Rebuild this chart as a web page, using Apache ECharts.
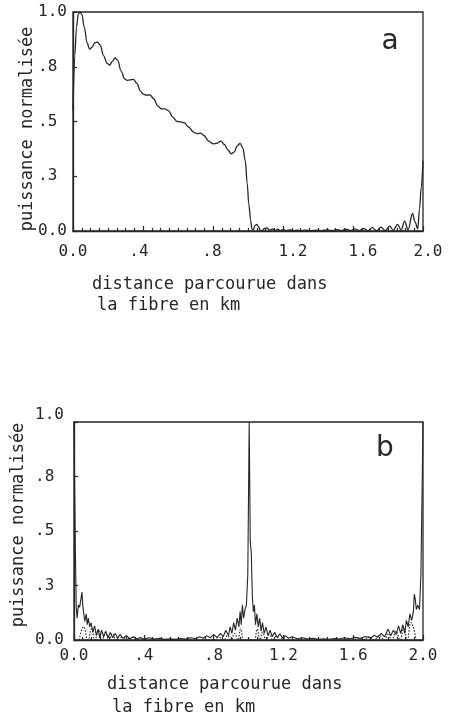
<!DOCTYPE html>
<html>
<head>
<meta charset="utf-8">
<script src="https://cdn.jsdelivr.net/npm/echarts@6/dist/echarts.min.js"></script>
<style>
html,body{margin:0;padding:0;background:#fff;}
#chart{width:459px;height:719px;}
</style>
</head>
<body>
<div id="chart"></div>
<script>
// ---- Data ----
const xTickLabels = ['0.0', '.4', '.8', '1.2', '1.6', '2.0'];
const yTickLabels = ['0.0', '.3 ', '.5 ', '.8 ', '1.0'];

// Panel a : normalised power vs distance (km)
const distA = [0.000,0.010,0.020,0.030,0.040,0.050,0.065,0.080,0.095,0.110,0.125,0.140,0.155,0.175,0.195,0.210,0.225,0.240,0.255,0.275,0.295,0.310,0.325,0.345,0.365,0.385,0.400,0.420,0.440,0.460,0.485,0.505,0.525,0.545,0.570,0.595,0.615,0.635,0.660,0.690,0.710,0.730,0.750,0.775,0.800,0.820,0.845,0.865,0.885,0.905,0.920,0.940,0.955,0.970,0.985,0.995,1.005,1.015,1.022,1.030,1.040,1.050,1.060,1.070,1.080,1.095,1.110,1.125,1.140,1.155,1.170,1.185,1.200,1.220,1.240,1.260,1.280,1.300,1.330,1.360,1.390,1.420,1.450,1.480,1.510,1.535,1.560,1.585,1.610,1.635,1.660,1.685,1.710,1.735,1.760,1.785,1.810,1.830,1.855,1.875,1.895,1.915,1.940,1.955,1.970,1.980,1.990,2.000];
const powerA = [0.55,0.80,0.93,0.99,1.00,0.99,0.93,0.86,0.83,0.84,0.86,0.862,0.85,0.80,0.765,0.758,0.775,0.790,0.78,0.73,0.695,0.688,0.69,0.692,0.675,0.64,0.625,0.62,0.622,0.605,0.57,0.558,0.558,0.55,0.52,0.50,0.498,0.495,0.475,0.45,0.445,0.447,0.435,0.41,0.398,0.40,0.41,0.395,0.37,0.352,0.36,0.39,0.40,0.38,0.32,0.22,0.12,0.05,0.01,0.005,0.025,0.03,0.02,0.003,0.002,0.012,0.013,0.003,0.010,0.002,0.008,0.002,0.006,0.002,0.005,0.002,0.004,0.002,0.004,0.002,0.004,0.002,0.005,0.002,0.006,0.002,0.008,0.002,0.010,0.002,0.012,0.002,0.015,0.002,0.018,0.002,0.022,0.003,0.030,0.004,0.045,0.005,0.080,0.040,0.010,0.10,0.20,0.32];

// Panel b : solid curve
const distB = [0.000,0.004,0.008,0.013,0.018,0.025,0.032,0.040,0.046,0.050,0.056,0.062,0.070,0.076,0.082,0.090,0.098,0.108,0.118,0.128,0.138,0.148,0.158,0.170,0.182,0.195,0.208,0.222,0.236,0.250,0.265,0.280,0.300,0.320,0.340,0.360,0.380,0.400,0.430,0.460,0.490,0.520,0.550,0.580,0.610,0.640,0.670,0.700,0.720,0.740,0.760,0.780,0.800,0.820,0.840,0.855,0.870,0.885,0.895,0.905,0.915,0.925,0.935,0.945,0.952,0.958,0.965,0.972,0.980,0.988,0.996,1.004,1.010,1.016,1.022,1.028,1.034,1.040,1.048,1.056,1.064,1.072,1.080,1.090,1.100,1.112,1.124,1.136,1.150,1.165,1.180,1.195,1.210,1.230,1.250,1.280,1.310,1.340,1.370,1.400,1.430,1.460,1.490,1.520,1.550,1.580,1.610,1.640,1.670,1.700,1.720,1.740,1.760,1.780,1.800,1.815,1.830,1.845,1.860,1.872,1.885,1.895,1.905,1.915,1.925,1.935,1.945,1.950,1.955,1.962,1.970,1.980,1.988,1.995,2.000];
const powerB = [1.00,0.70,0.40,0.15,0.10,0.16,0.15,0.19,0.22,0.16,0.12,0.085,0.12,0.07,0.10,0.06,0.08,0.035,0.065,0.02,0.05,0.01,0.045,0.015,0.04,0.01,0.035,0.01,0.03,0.008,0.025,0.008,0.02,0.006,0.015,0.005,0.012,0.004,0.01,0.004,0.008,0.003,0.006,0.003,0.007,0.004,0.01,0.006,0.015,0.008,0.02,0.01,0.025,0.012,0.03,0.015,0.045,0.02,0.06,0.03,0.08,0.045,0.10,0.06,0.13,0.07,0.16,0.10,0.14,0.16,0.30,1.00,0.45,0.40,0.20,0.13,0.16,0.07,0.12,0.06,0.10,0.04,0.08,0.03,0.06,0.02,0.045,0.015,0.035,0.012,0.028,0.01,0.02,0.008,0.015,0.006,0.01,0.004,0.008,0.003,0.006,0.003,0.007,0.004,0.01,0.005,0.013,0.007,0.016,0.009,0.022,0.012,0.03,0.015,0.05,0.02,0.045,0.025,0.065,0.03,0.07,0.03,0.09,0.06,0.12,0.09,0.13,0.21,0.19,0.14,0.16,0.14,0.30,0.70,1.00];

// Panel b : dotted side-lobe curve
const distBLobes = [0.030,0.055,0.080,0.100,0.120,0.140,0.160,0.180,0.200,0.220,0.240,0.260,0.280,0.300,0.320,0.340,0.360,0.380,0.400,0.600,0.800,0.830,0.860,0.880,0.900,0.920,0.940,0.955,0.970,1.035,1.050,1.065,1.080,1.100,1.120,1.140,1.160,1.180,1.200,1.220,1.600,1.630,1.660,1.690,1.720,1.750,1.780,1.800,1.820,1.845,1.870,1.890,1.910,1.930,1.960];
const powerBLobes = [0.00,0.06,0.00,0.05,0.00,0.045,0.00,0.035,0.00,0.03,0.00,0.022,0.00,0.018,0.00,0.012,0.00,0.01,0.00,0.00,0.00,0.012,0.00,0.02,0.00,0.03,0.00,0.05,0.00,0.00,0.05,0.00,0.035,0.00,0.025,0.00,0.018,0.00,0.012,0.00,0.00,0.01,0.00,0.015,0.00,0.02,0.00,0.03,0.00,0.04,0.00,0.06,0.00,0.08,0.00];

const zip = (xs, ys) => xs.map((x, i) => [x, ys[i]]);

const INK = '#262626';
const MONO = 'DejaVu Sans Mono';

// small horizontal nudges of the tick labels of panel a (as printed)
const nudgeA = [0, -4, -1, 10, 10, 5];
const richX = {};
nudgeA.forEach((n, i) => {
  richX['n' + i] = {
    fontFamily: MONO, fontSize: 16, color: INK,
    padding: n >= 0 ? [0, 0, 0, 2 * n] : [0, -2 * n, 0, 0]
  };
});

function xAxisFor(gi, margin, nudge) {
  return {
    type: 'value', gridIndex: gi, min: 0, max: 2, interval: 0.4,
    axisLine: { show: true, lineStyle: { color: INK, width: 1.3 } },
    axisTick: { show: true, inside: true, length: 5, lineStyle: { color: INK, width: 1.2 } },
    minorTick: { show: true, splitNumber: 8, length: 3, lineStyle: { color: INK, width: 1.2 } },
    splitLine: { show: false },
    minorSplitLine: { show: false },
    axisLabel: {
      margin: margin, color: INK, fontFamily: MONO, fontSize: 16,
      rich: nudge ? richX : undefined,
      formatter: v => {
        const i = Math.round(v / 0.4);
        return nudge ? '{n' + i + '|' + xTickLabels[i] + '}' : xTickLabels[i];
      }
    }
  };
}
function yAxisFor(gi, margin, liftTop) {
  return {
    type: 'value', gridIndex: gi, min: 0, max: 1, interval: 0.25,
    axisLine: { show: true, lineStyle: { color: INK, width: 1.3 } },
    axisTick: { show: true, inside: true, length: 4, lineStyle: { color: INK, width: 1.2 } },
    splitLine: { show: false },
    axisLabel: {
      margin: margin, color: INK, fontFamily: MONO, fontSize: 16,
      rich: { up: { fontFamily: MONO, fontSize: 16, color: INK, padding: [0, 0, 14, 0] } },
      formatter: v => {
        const i = Math.round(v / 0.25);
        return (liftTop && i === 4) ? '{up|' + yTickLabels[i] + '}' : yTickLabels[i];
      }
    }
  };
}

const chart = echarts.init(document.getElementById('chart'), null, { renderer: 'canvas' });
chart.setOption({
  animation: false,
  backgroundColor: '#fff',
  grid: [
    { left: 73, top: 12, width: 350, height: 219, show: true, borderColor: INK, borderWidth: 1.3, containLabel: false },
    { left: 74, top: 422, width: 349, height: 218, show: true, borderColor: INK, borderWidth: 1.3, containLabel: false }
  ],
  xAxis: [xAxisFor(0, 13, true), xAxisFor(1, 8, false)],
  yAxis: [yAxisFor(0, 6, false), yAxisFor(1, 10, true)],
  series: [
    {
      type: 'line', xAxisIndex: 0, yAxisIndex: 0, data: zip(distA, powerA),
      showSymbol: false, smooth: 0.35, smoothMonotone: 'x',
      lineStyle: { color: INK, width: 1.3 }
    },
    {
      type: 'line', xAxisIndex: 1, yAxisIndex: 1, data: zip(distB, powerB),
      showSymbol: false,
      lineStyle: { color: INK, width: 1.1 }
    },
    {
      type: 'line', xAxisIndex: 1, yAxisIndex: 1, data: zip(distBLobes, powerBLobes),
      showSymbol: false, smooth: 0.5, smoothMonotone: 'x',
      lineStyle: { color: INK, width: 1.1, type: [1.5, 1.5] }
    }
  ],
  graphic: [
    { type: 'text', x: 390, y: 42, style: { text: 'a', font: '28px "DejaVu Sans"', fill: INK, textAlign: 'center', textVerticalAlign: 'middle' } },
    { type: 'text', x: 385, y: 449, style: { text: 'b', font: '28px "DejaVu Sans"', fill: INK, textAlign: 'center', textVerticalAlign: 'middle' } },
    { type: 'text', x: 28, y: 129, rotation: Math.PI / 2, style: { text: 'puissance normalisée', font: '17px "DejaVu Sans Mono"', fill: INK, textAlign: 'center', textVerticalAlign: 'middle' } },
    { type: 'text', x: 19, y: 525, rotation: Math.PI / 2, style: { text: 'puissance normalisée', font: '17px "DejaVu Sans Mono"', fill: INK, textAlign: 'center', textVerticalAlign: 'middle' } },
    { type: 'text', x: 92, y: 285, style: { text: 'distance parcourue dans', font: '17px "DejaVu Sans Mono"', fill: INK, textAlign: 'left', textVerticalAlign: 'middle' } },
    { type: 'text', x: 97, y: 306, style: { text: 'la fibre en km', font: '17px "DejaVu Sans Mono"', fill: INK, textAlign: 'left', textVerticalAlign: 'middle' } },
    { type: 'text', x: 107, y: 685, style: { text: 'distance parcourue dans', font: '17px "DejaVu Sans Mono"', fill: INK, textAlign: 'left', textVerticalAlign: 'middle' } },
    { type: 'text', x: 112, y: 708, style: { text: 'la fibre en km', font: '17px "DejaVu Sans Mono"', fill: INK, textAlign: 'left', textVerticalAlign: 'middle' } }
  ]
});
</script>
</body>
</html>
